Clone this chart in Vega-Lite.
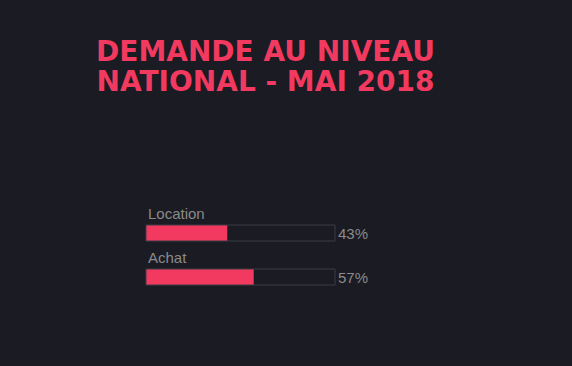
{
  "$schema": "https://vega.github.io/schema/vega-lite/v6.json",
  "width": 189,
  "height": 88,
  "autosize": {"type": "none"},
  "padding": {"left": 146, "top": 203, "right": 237, "bottom": 75},
  "background": "#1a1b23",
  "config": {"view": {"stroke": null}},
  "title": {
    "text": ["DEMANDE AU NIVEAU", "NATIONAL - MAI 2018"],
    "anchor": "middle",
    "frame": "group",
    "dx": 25,
    "offset": 106,
    "font": "DejaVu Sans",
    "fontWeight": "bold",
    "fontSize": 28,
    "lineHeight": 30,
    "color": "#f2395f"
  },
  "data": {"values": [
    {"cat": "Location", "value": 0.43},
    {"cat": "Achat", "value": 0.57}
  ]},
  "encoding": {
    "y": {"field": "cat", "type": "nominal", "sort": null, "axis": null,
          "scale": {"domain": ["Location", "Achat"], "paddingInner": 0, "paddingOuter": 0}}
  },
  "layer": [
    {
      "mark": {"type": "bar", "height": 16, "yOffset": 8, "fill": "#f2395f", "cornerRadius": 0},
      "encoding": {
        "x": {"field": "value", "type": "quantitative", "axis": null, "scale": {"domain": [0, 1], "nice": false}}
      }
    },
    {
      "mark": {"type": "bar", "height": 16, "yOffset": 8, "fill": null, "fillOpacity": 0, "stroke": "#3c3d47", "strokeWidth": 1},
      "encoding": {
        "x": {"datum": 0, "type": "quantitative"},
        "x2": {"datum": 1}
      }
    },
    {
      "mark": {"type": "text", "align": "left", "baseline": "alphabetic", "dx": 2, "dy": -6, "font": "Liberation Sans", "fontSize": 15, "color": "#8a8a8a"},
      "encoding": {
        "x": {"datum": 0, "type": "quantitative"},
        "text": {"field": "cat"}
      }
    },
    {
      "mark": {"type": "text", "align": "left", "baseline": "middle", "dx": 3, "yOffset": 9, "font": "Liberation Sans", "fontSize": 15, "color": "#8a8a8a"},
      "encoding": {
        "x": {"datum": 1, "type": "quantitative"},
        "text": {"field": "value", "type": "quantitative", "format": ".0%"}
      }
    }
  ]
}
